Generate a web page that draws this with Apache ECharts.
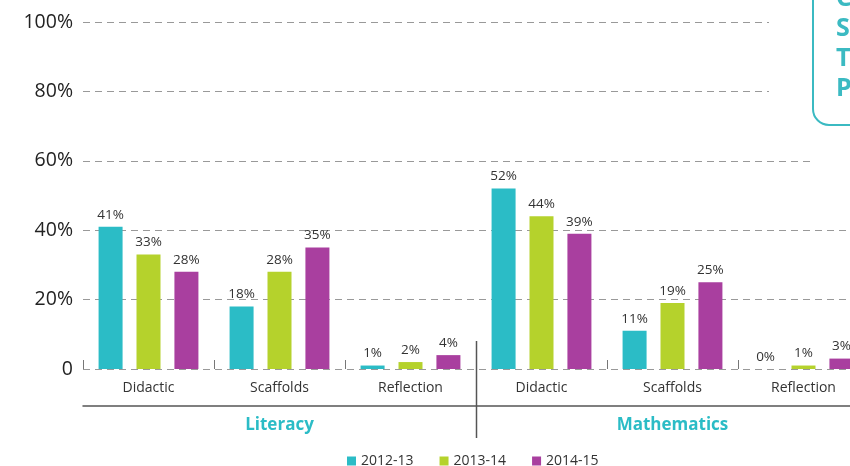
<!DOCTYPE html>
<html>
<head>
<meta charset="utf-8">
<script src="https://cdn.jsdelivr.net/npm/echarts@6/dist/echarts.min.js"></script>
<style>
  html, body { margin: 0; padding: 0; background: #fff; }
  #chart { width: 850px; height: 466px; }
</style>
</head>
<body>
<div id="chart"></div>
<script>
// 数据
const categories = ['Didactic', 'Scaffolds', 'Reflection', 'Didactic', 'Scaffolds', 'Reflection'];
const subjects = ['Literacy', 'Mathematics'];
const years = ['2012-13', '2013-14', '2014-15'];
const values1213 = [41, 18, 1, 52, 11, 0];
const values1314 = [33, 28, 2, 44, 19, 1];
const values1415 = [28, 35, 4, 39, 25, 3];
const yTicks = [0, 20, 40, 60, 80, 100];

const colors = ['#2bbcc6', '#b5d22c', '#a93f9f'];
const font = 'Open Sans';

function barSeries(name, data, color) {
  return {
    name: name,
    type: 'bar',
    xAxisIndex: 0,
    barWidth: 24,
    barGap: '58%',
    itemStyle: { color: color },
    label: {
      show: true,
      position: 'top',
      distance: 5,
      formatter: '{c}%',
      color: '#333',
      fontFamily: font,
      fontSize: 13.5,
    },
    data: data,
  };
}

const myChart = echarts.init(document.getElementById('chart'));
const option = {
  backgroundColor: '#fff',
  animation: false,
  color: colors,
  legend: {
    data: years,
    top: 449,
    left: 342,
    itemWidth: 9,
    itemHeight: 9,
    itemGap: 26,
    icon: 'rect',
    textStyle: { fontFamily: font, fontSize: 14, color: '#333' },
  },
  // 右边被裁掉一截，所以 grid 比画布宽
  grid: { left: 83, width: 786, top: 22, bottom: 97, outerBoundsMode: 'none' },
  xAxis: [
    {
      type: 'category',
      data: categories,
      axisLine: { show: false },
      axisTick: { show: true, inside: true, length: 9, lineStyle: { color: '#777' } },
      axisLabel: { color: '#333', fontFamily: font, fontSize: 14, margin: 12, interval: 0 },
    },
    {
      type: 'category',
      data: subjects,
      position: 'bottom',
      offset: 37,
      axisLine: { show: true, lineStyle: { color: '#555', width: 1.5 } },
      axisTick: { show: false },
      axisLabel: { color: '#2bbcc6', fontFamily: font, fontSize: 17, fontWeight: 'bold', margin: 11 },
    },
  ],
  yAxis: {
    type: 'value',
    min: yTicks[0],
    max: yTicks[yTicks.length - 1],
    interval: 20,
    axisLine: { show: false },
    axisTick: { show: false },
    axisLabel: {
      margin: 10,
      color: '#222',
      fontFamily: font,
      fontSize: 19.5,
      formatter: function (v) { return v === 0 ? '0' : v + '%'; },
    },
    splitLine: { lineStyle: { color: '#999', type: [7, 5], width: 1 } },
  },
  series: [
    barSeries(years[0], values1213, colors[0]),
    barSeries(years[1], values1314, colors[1]),
    barSeries(years[2], values1415, colors[2]),
  ],
};
myChart.setOption(option);

// 分隔线 + 右上角的框
const xA = myChart.convertToPixel({ xAxisIndex: 0 }, 2);
const xB = myChart.convertToPixel({ xAxisIndex: 0 }, 3);
const sepX = Math.round((xA + xB) / 2) + 0.5;
myChart.setOption({
  graphic: [
    { type: 'rect', z: 100, shape: { x: 769, y: 0, width: 81, height: 140 }, style: { fill: '#fff' } },
    { type: 'rect', z: 100, shape: { x: 811, y: 140, width: 39, height: 30 }, style: { fill: '#fff' } },
    {
      type: 'rect', z: 101,
      shape: { x: 813, y: -40, width: 80, height: 165, r: 16 },
      style: { fill: '#fff', stroke: '#3bbac2', lineWidth: 2 },
    },
    {
      type: 'text', z: 102, x: 836, y: -16,
      style: {
        text: 'C\nS\nT\nP', fill: '#3bbac2', fontFamily: font, fontWeight: 'bold',
        fontSize: 25, lineHeight: 30,
      },
    },
    {
      type: 'line', z: 100,
      shape: { x1: sepX, y1: 341, x2: sepX, y2: 438 },
      style: { stroke: '#555', lineWidth: 1.5 },
    },
  ],
});
</script>
</body>
</html>
